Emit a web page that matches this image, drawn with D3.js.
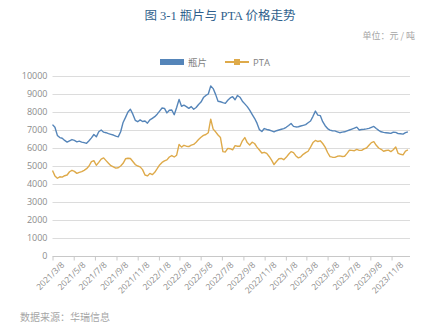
<!DOCTYPE html>
<html>
<head>
<meta charset="utf-8">
<script src="https://cdn.jsdelivr.net/npm/d3@7"></script>
<style>
  html, body { margin: 0; padding: 0; background: #fff; }
  svg { display: block; }
</style>
</head>
<body>
<svg id="chart" width="445" height="328"></svg>
<script>
// Weekly samples starting 2021-03-08, price in 元/吨
const startDate = "2021-03-08";
const chipPrice = [
  7300,7150,6700,6580,6540,6420,6330,6400,6470,6420,
  6340,6380,6330,6300,6260,6400,6560,6750,6620,6900,
  7000,6880,6850,6800,6760,6720,6660,6620,6900,7420,
  7700,8000,8150,7880,7540,7460,7560,7470,7500,7380,
  7560,7650,7740,7880,8050,8220,8200,7950,8100,8110,
  7850,8250,8700,8320,8380,8300,8200,8300,8150,8250,
  8420,8550,8800,8920,9000,9450,9300,8980,8600,8570,
  8520,8480,8650,8780,8850,8680,8920,8820,8600,8450,
  8300,8100,7870,7650,7380,7020,6920,7080,7030,7000,
  6950,6900,6960,7000,7040,7080,7150,7250,7360,7200,
  7170,7180,7220,7260,7300,7400,7500,7760,8050,7830,
  7800,7460,7240,7080,6990,6960,6950,6900,6850,6880,
  6900,6950,7000,7050,7100,7160,7000,7030,7040,7060,
  7090,7150,7200,7080,6980,6900,6870,6850,6830,6810,
  6880,6870,6800,6790,6770,6850,6900
];
const ptaPrice = [
  4750,4450,4320,4400,4380,4460,4500,4680,4760,4700,
  4590,4650,4690,4760,4850,5000,5240,5300,5040,5200,
  5380,5450,5300,5150,5020,4950,4880,4900,5000,5150,
  5400,5430,5420,5250,5080,5000,4950,4800,4500,4450,
  4590,4520,4650,4850,5060,5200,5280,5340,5500,5580,
  5500,5600,6200,6050,6150,6100,6080,6160,6200,6320,
  6470,6600,6700,6750,6850,7600,7050,6900,6720,6580,
  5800,5780,5980,5960,5900,6130,6100,6100,6400,6580,
  6300,6170,6320,6250,6050,5890,5720,5760,5700,5530,
  5330,5080,5250,5400,5420,5350,5480,5650,5800,5740,
  5560,5450,5510,5650,5740,5820,6050,6300,6420,6360,
  6400,6250,6050,5750,5520,5490,5480,5540,5560,5530,
  5540,5700,5880,5870,5850,5920,5870,5870,5950,6000,
  6150,6300,6350,6150,6000,5930,5820,5860,5880,5800,
  5900,6060,5700,5650,5620,5830,5890
];
const xTickLabels = [
  "2021/3/8","2021/5/8","2021/7/8","2021/9/8","2021/11/8",
  "2022/1/8","2022/3/8","2022/5/8","2022/7/8","2022/9/8","2022/11/8",
  "2023/1/8","2023/3/8","2023/5/8","2023/7/8","2023/9/8","2023/11/8"
];
const yTicks = [0,1000,2000,3000,4000,5000,6000,7000,8000,9000,10000];
const seriesNames = ["瓶片", "PTA"];
const seriesColors = ["#5585b9", "#deaa4a"];

const parse = d3.timeParse("%Y-%m-%d");
const parseLabel = d3.timeParse("%Y/%m/%d");
const t0 = parse(startDate);
const dates = chipPrice.map((_, i) => d3.timeDay.offset(t0, i * 7));

const svg = d3.select("#chart");
const m = { left: 52.5, right: 410, top: 76, bottom: 256 };

const x = d3.scaleTime()
  .domain([t0, d3.timeDay.offset(t0, 1028)])
  .range([m.left, m.right]);
const y = d3.scaleLinear().domain([0, 10000]).range([m.bottom, m.top]);

const cjk = "'Noto Sans CJK SC', 'Noto Sans', sans-serif";

// Title
svg.append("text")
  .attr("x", 220).attr("y", 20)
  .attr("text-anchor", "middle")
  .attr("font-family", "'Liberation Serif', 'Noto Sans CJK SC', serif")
  .attr("font-size", 12.5)
  .attr("fill", "#2f5f8c")
  .text("图 3-1 瓶片与 PTA 价格走势");

// Unit note
svg.append("text")
  .attr("x", 415).attr("y", 39)
  .attr("text-anchor", "end")
  .attr("font-family", cjk)
  .attr("font-size", 9)
  .attr("fill", "#a6a6a6")
  .text("单位：元 / 吨");

// Gridlines
svg.append("g").selectAll("line")
  .data(yTicks.filter(v => v > 0))
  .join("line")
  .attr("x1", m.left).attr("x2", m.right)
  .attr("y1", d => Math.round(y(d)) + 0.5).attr("y2", d => Math.round(y(d)) + 0.5)
  .attr("stroke", "#dcdcdc").attr("stroke-width", 1);

// Y axis labels
const yAxis = d3.axisLeft(y).tickValues(yTicks).tickSize(0).tickPadding(5).tickFormat(d3.format("d"));
const gy = svg.append("g").attr("transform", `translate(${m.left},0)`).call(yAxis);
gy.select(".domain").remove();
gy.selectAll("text")
  .attr("font-family", "'Open Sans', 'Noto Sans', sans-serif")
  .attr("font-size", 9)
  .attr("fill", "#8c8c8c");

// X axis
const tickDates = xTickLabels.map(s => parseLabel(s));
const xAxis = d3.axisBottom(x).tickValues(tickDates).tickSize(4).tickFormat((d, i) => xTickLabels[i]);
const gx = svg.append("g").attr("transform", `translate(0,${Math.round(m.bottom) + 0.5})`).call(xAxis);
gx.select(".domain").attr("stroke", "#c8c8c8").attr("d", `M${m.left},0H${m.right}`);
gx.selectAll(".tick line").attr("stroke", "#c8c8c8");
gx.selectAll("text")
  .attr("font-family", "'Open Sans', 'Noto Sans', sans-serif")
  .attr("font-size", 8.5)
  .attr("fill", "#8c8c8c")
  .attr("text-anchor", "end")
  .attr("dx", 0).attr("dy", 0)
  .attr("transform", "translate(7,4) rotate(-45)");

// Lines
const line = d3.line().x((d, i) => x(dates[i])).y(d => y(d)).curve(d3.curveLinear);
[ptaPrice, chipPrice].forEach((s, k) => {
  svg.append("path")
    .datum(s)
    .attr("fill", "none")
    .attr("stroke", k === 0 ? seriesColors[1] : seriesColors[0])
    .attr("stroke-width", 1.4)
    .attr("stroke-linejoin", "round")
    .attr("d", line);
});

// Legend
const lg = svg.append("g");
lg.append("rect").attr("x", 160).attr("y", 59).attr("width", 24).attr("height", 6).attr("fill", seriesColors[0]);
lg.append("text").attr("x", 188).attr("y", 65.5)
  .attr("font-family", cjk).attr("font-size", 9.5).attr("fill", "#7f7f7f").text(seriesNames[0]);
lg.append("line").attr("x1", 225).attr("x2", 249).attr("y1", 62).attr("y2", 62)
  .attr("stroke", seriesColors[1]).attr("stroke-width", 2);
lg.append("rect").attr("x", 234).attr("y", 59).attr("width", 6).attr("height", 6).attr("fill", seriesColors[1]);
lg.append("text").attr("x", 253).attr("y", 65.5)
  .attr("font-family", "'Open Sans', 'Noto Sans', sans-serif").attr("font-size", 9.5).attr("fill", "#7f7f7f").text(seriesNames[1]);

// Source note
svg.append("text")
  .attr("x", 20).attr("y", 321)
  .attr("font-family", cjk)
  .attr("font-size", 10)
  .attr("fill", "#a6a6a6")
  .text("数据来源：华瑞信息");
</script>
</body>
</html>
